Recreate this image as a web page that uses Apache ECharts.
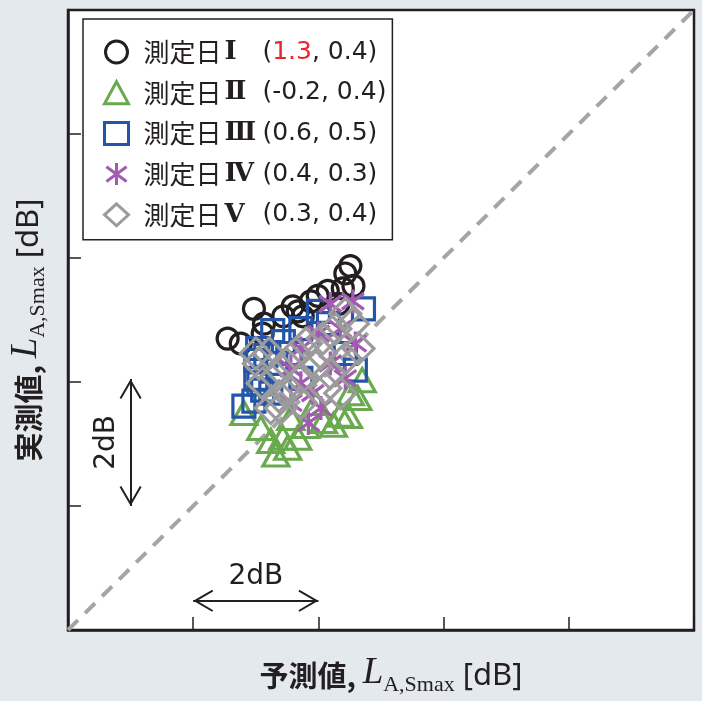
<!DOCTYPE html>
<html>
<head>
<meta charset="utf-8">
<script src="https://cdn.jsdelivr.net/npm/echarts@6/dist/echarts.min.js"></script>
<style>
html,body{margin:0;padding:0;background:#e4e9ee;}
#chart{width:702px;height:701px;}
</style>
</head>
<body>
<div id="chart"></div>
<script>
// ---- data ----
const dayNames = ['測定日Ⅰ', '測定日Ⅱ', '測定日Ⅲ', '測定日Ⅳ', '測定日Ⅴ'];
const biasMean = ['1.3', '-0.2', '0.6', '0.4', '0.3'];
const biasSd = ['0.4', '0.4', '0.5', '0.3', '0.4'];

const day1X = [2.55, 2.76, 2.97, 3.13, 3.11, 3.44, 3.59, 3.67, 3.75, 3.88, 3.99, 4.15, 4.32, 4.39, 4.56, 4.43, 4.51];
const day1Y = [4.70, 4.62, 5.18, 4.94, 4.78, 5.06, 5.22, 5.14, 5.06, 5.30, 5.39, 5.47, 5.26, 5.51, 5.55, 5.75, 5.87];

const day2X = [2.81, 3.08, 3.24, 3.32, 3.43, 3.51, 3.67, 3.80, 4.08, 4.24, 4.35, 4.48, 4.63, 4.70, 4.51, 3.56, 3.96];
const day2Y = [3.50, 3.26, 3.05, 2.83, 3.10, 2.94, 3.10, 3.29, 3.37, 3.31, 3.47, 3.45, 3.74, 4.03, 3.82, 3.42, 3.66];

const day3X = [2.81, 2.97, 3.03, 3.00, 3.16, 3.00, 3.11, 3.27, 3.44, 3.72, 4.00, 4.16, 4.72, 4.43, 4.59, 3.72, 3.05, 3.32, 3.56, 3.24];
const day3Y = [3.61, 3.69, 4.54, 4.35, 4.43, 4.06, 3.87, 4.83, 4.65, 4.86, 5.14, 4.94, 5.18, 4.46, 4.19, 4.06, 3.97, 4.30, 4.46, 3.82];

const day4X = [4.19, 4.55, 4.00, 4.35, 4.59, 3.56, 3.72, 3.91, 4.19, 3.84, 3.56, 4.43, 3.72, 4.04];
const day4Y = [5.26, 5.30, 4.78, 4.86, 4.62, 4.22, 3.98, 3.82, 4.30, 3.34, 3.66, 4.06, 4.54, 3.58];

const day5X = [3.05, 3.21, 3.11, 3.32, 3.48, 3.37, 3.64, 3.80, 4.07, 4.27, 4.55, 4.64, 3.72, 3.96, 3.52, 3.72, 4.19, 4.43, 3.24, 4.35, 3.00, 4.04, 4.43, 3.40, 4.11];
const day5Y = [4.30, 4.46, 3.98, 4.09, 4.30, 3.77, 4.46, 4.62, 4.70, 4.86, 4.94, 4.54, 4.06, 4.25, 3.87, 3.66, 4.14, 4.38, 3.58, 3.82, 4.46, 4.46, 5.10, 3.58, 3.90];

const diagX = [0, 10];
const diagY = [0, 10];

// annotation arrows (2 dB scale bars), in data units
const hArrowX = [2, 4], hArrowY = 0.47;
const vArrowY = [2, 4.05], vArrowX = 1;
const arrowLabel = '2dB';

// ---- styles ----
const ink = '#231f20';
const colors = ['#231f20', '#6aaa4f', '#2356a8', '#a35bb2', '#9b9b9b'];
const asteriskPath = 'path://M0,-12L0,12M-11,-8L11,8M-11,8L11,-8';
const symbols = ['circle', 'triangle', 'rect', asteriskPath, 'diamond'];
const symbolSizes = [21, [26, 23], 22, 24, 31];
const arrowHead = 'path://M0,-20L0.01,-20L0,-19.99ZM0,0L11,19L9.27,20L0,4L-9.27,20L-11,19Z';

const xs = [day1X, day2X, day3X, day4X, day5X];
const ys = [day1Y, day2Y, day3Y, day4Y, day5Y];

const series = [{
  type: 'line',
  data: diagX.map((x, i) => [x, diagY[i]]),
  symbol: 'none',
  silent: true,
  z: 1,
  lineStyle: {color: '#a5a5a5', width: 4, type: [14, 10]}
}];

dayNames.forEach((n, i) => {
  series.push({
    type: 'scatter',
    name: n,
    data: xs[i].map((x, j) => [x, ys[i][j]]),
    symbol: symbols[i],
    symbolSize: symbolSizes[i],
    symbolKeepAspect: true,
    z: 3 + i,
    itemStyle: {color: 'rgba(0,0,0,0)', borderColor: colors[i], borderWidth: 3.2, opacity: 1},
    emphasis: {disabled: true}
  });
});

series.push({
  type: 'scatter',
  name: 'annot',
  data: [],
  silent: true,
  markLine: {
    silent: true,
    animation: false,
    symbol: [arrowHead, arrowHead],
    symbolSize: [22, 40],
    itemStyle: {color: ink},
    lineStyle: {color: ink, width: 2, type: 'solid'},
    emphasis: {disabled: true},
    label: {show: true, formatter: arrowLabel, position: 'middle', fontFamily: 'DejaVu Sans', fontSize: 28, color: ink, distance: 10},
    data: [
      [{coord: [hArrowX[0], hArrowY]}, {coord: [hArrowX[1], hArrowY]}],
      [{coord: [vArrowX, vArrowY[0]]}, {coord: [vArrowX, vArrowY[1]]}]
    ]
  }
});

const nameRich = {
  c: {fontFamily: 'Noto Sans CJK JP', fontWeight: 'bold', fontSize: 29, color: ink, verticalAlign: 'bottom', padding: [0, 0, 6, 0]},
  L: {fontFamily: 'Liberation Serif', fontStyle: 'italic', fontSize: 37, color: ink, verticalAlign: 'bottom', padding: [0, 0, 4, 0]},
  s: {fontFamily: 'Liberation Serif', fontSize: 22, color: ink, verticalAlign: 'bottom', padding: [0, 0, 0, 0]},
  d: {fontFamily: 'Noto Sans', fontSize: 31, color: ink, verticalAlign: 'bottom', padding: [0, 0, 4, 0]}
};

const tickStyle = {inside: true, length: 13, lineStyle: {color: ink, width: 1.5}};

const legendRich = {
  j: {fontFamily: 'Noto Sans CJK JP', fontSize: 26, color: ink, lineHeight: 26},
  n: {fontFamily: 'DejaVu Serif', fontWeight: 'bold', fontSize: 26, color: ink, lineHeight: 26, width: 30, align: 'left', padding: [0, 0, 0, 3]},
  t: {fontFamily: 'DejaVu Sans', fontSize: 25, color: ink, lineHeight: 26},
  r: {fontFamily: 'DejaVu Sans', fontSize: 25, color: '#e8262b', lineHeight: 26}
};

const option = {
  backgroundColor: '#e4e9ee',
  animation: false,
  grid: {left: 67, right: 8, top: 10, bottom: 68, show: true, backgroundColor: '#ffffff', borderColor: ink, borderWidth: 2.5},
  xAxis: {
    type: 'value', min: 0, max: 10, interval: 2,
    axisLine: {show: true, lineStyle: {color: ink, width: 2.5}},
    axisTick: tickStyle,
    axisLabel: {show: false},
    splitLine: {show: false},
    name: '{c|予測値, }{L|L}{s|A,Smax}{d| [dB]}',
    nameLocation: 'middle',
    nameGap: 25,
    nameTextStyle: {rich: nameRich, padding: [0, 0, 0, 20]}
  },
  yAxis: {
    type: 'value', min: 0, max: 10, interval: 2,
    axisLine: {show: true, lineStyle: {color: ink, width: 2.5}},
    axisTick: tickStyle,
    axisLabel: {show: false},
    splitLine: {show: false},
    name: '{c|実測値, }{L|L}{s|A,Smax}{d| [dB]}',
    nameLocation: 'middle',
    nameRotate: 90,
    nameGap: 19,
    nameTextStyle: {rich: nameRich, padding: [0, 20, 0, 0]}
  },
  legend: {
    data: dayNames,
    orient: 'vertical',
    left: 83, top: 19,
    padding: [20, 6, 12, 20],
    itemGap: 14.7,
    itemWidth: 24, itemHeight: 22,
    backgroundColor: '#ffffff',
    borderColor: ink, borderWidth: 1.5,
    selectedMode: false,
    itemStyle: {borderWidth: 3},
    textStyle: {
      fontFamily: 'Noto Sans CJK JP', fontSize: 26, color: ink, lineHeight: 26, padding: [0, 0, 0, 10],
      rich: legendRich
    },
    formatter: function (name) {
      const i = dayNames.indexOf(name);
      const m = i === 0 ? '{r|' + biasMean[i] + '}' : '{t|' + biasMean[i] + '}';
      return '{j|' + name.slice(0, 3) + '}{n|' + name.slice(3) + '}{t| (}' + m + '{t|, ' + biasSd[i] + ')}';
    }
  },
  series: series
};

const chart = echarts.init(document.getElementById('chart'), null, {renderer: 'canvas'});
chart.setOption(option);
</script>
</body>
</html>
